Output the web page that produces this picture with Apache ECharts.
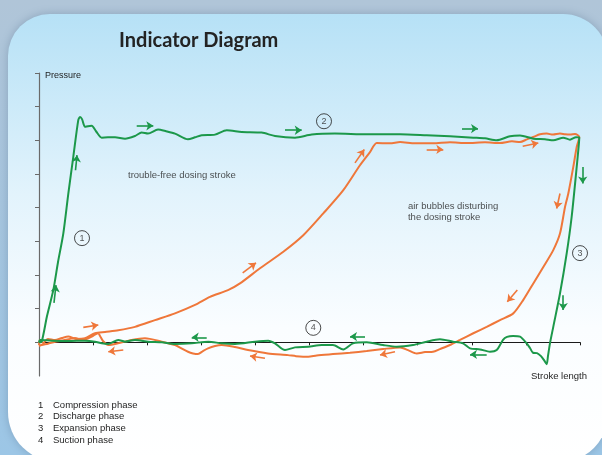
<!DOCTYPE html>
<html>
<head>
<meta charset="utf-8">
<title>Indicator Diagram</title>
<script src="https://cdn.jsdelivr.net/npm/echarts@6/dist/echarts.min.js"></script>
<style>
  html, body { margin: 0; padding: 0; }
  #chart { width: 602px; height: 455px; }
</style>
</head>
<body>
<div id="chart"></div>
<script>
// stroke position (0..10) / pressure (-1..8)
const cleanStroke = [
  [0, 0], [0.05, 0.02], [0.148, 0.78], [0.264, 1.55], [0.351, 2.38], [0.449, 3.23], [0.542, 4.42],
  [0.634, 5.51], [0.726, 6.6], [0.758, 6.69], [0.795, 6.63], [0.85, 6.4], [0.906, 6.42], [0.974, 6.43],
  [1.054, 6.27], [1.159, 6.08], [1.275, 6.09], [1.405, 6.09], [1.59, 6.05], [1.774, 6.13], [1.898, 6.23],
  [2.015, 6.2], [2.2, 6.32], [2.348, 6.27], [2.514, 6.2], [2.754, 6.03], [2.884, 6.09], [3.007, 6.15],
  [3.253, 6.17], [3.47, 6.3], [3.747, 6.25], [4.116, 6.23], [4.362, 6.13], [4.732, 6.08], [5.041, 6.17],
  [5.471, 6.2], [6.057, 6.18], [6.673, 6.18], [7.166, 6.15], [7.597, 6.12], [8.028, 6.08], [8.244, 6.06],
  [8.46, 6.0], [8.706, 6.12], [8.891, 6.14], [9.137, 6.05], [9.353, 6.03], [9.506, 6.0], [9.691, 6.08],
  [9.815, 6.02], [9.926, 6.09], [9.987, 6.08],
  [9.939, 5.21], [9.846, 3.73], [9.754, 2.64], [9.63, 1.45], [9.506, 0.46], [9.445, -0.03], [9.408, -0.41],
  [9.384, -0.65], [9.335, -0.53], [9.279, -0.41], [9.205, -0.32], [9.131, -0.31], [9.076, -0.17],
  [9.015, -0.03], [8.891, 0.17], [8.762, 0.19], [8.651, 0.16], [8.577, 0.07], [8.46, -0.23], [8.336, -0.28],
  [8.152, -0.21], [7.967, -0.18], [7.837, -0.03], [7.652, 0.02], [7.412, 0.09], [7.166, 0.02], [6.913, -0.08],
  [6.612, -0.13], [6.359, -0.08], [6.057, 0], [5.804, -0.03], [5.625, -0.21], [5.434, -0.08], [5.226, -0.08],
  [4.978, -0.13], [4.732, -0.15], [4.547, -0.23], [4.362, -0.03], [4.238, 0.05], [3.993, 0.02], [3.623, -0.05],
  [3.377, -0.03], [3.129, 0.02], [2.823, -0.03], [2.514, -0.05], [2.268, 0], [2.02, 0.02], [1.774, 0.07],
  [1.59, 0.02], [1.466, 0.07], [1.281, -0.05], [1.159, -0.03], [1.035, 0.02], [0.85, 0.05], [0.542, 0.04],
  [0.235, 0.05], [0.018, 0.07], [0, 0]
];

const airStroke = [
  [0, -0.08], [0.018, 0.07], [0.074, -0.02], [0.166, 0.1], [0.296, 0.07], [0.425, 0.13], [0.542, 0.17],
  [0.684, 0.1], [0.85, 0.12], [1.035, 0.27], [1.22, 0.31], [1.466, 0.36], [1.774, 0.46], [2.144, 0.66],
  [2.514, 0.86], [2.884, 1.11], [3.161, 1.35], [3.494, 1.55], [3.715, 1.75], [4.085, 2.2], [4.516, 2.69],
  [4.885, 3.18], [5.255, 3.83], [5.625, 4.52], [5.933, 5.26], [6.118, 5.65], [6.242, 5.92], [6.488, 5.91],
  [6.673, 5.95], [6.95, 5.91], [7.283, 5.91], [7.597, 5.94], [7.906, 5.92], [8.244, 5.94], [8.521, 5.92],
  [8.743, 5.97], [8.891, 5.95], [9.02, 6.03], [9.137, 6.1], [9.261, 6.18], [9.385, 6.2], [9.501, 6.17],
  [9.63, 6.2], [9.723, 6.18], [9.815, 6.17], [9.908, 6.19], [9.987, 6.1],
  [9.939, 5.8], [9.876, 5.21], [9.784, 4.42], [9.723, 4.02], [9.63, 3.23], [9.506, 2.74], [9.322, 2.24],
  [9.137, 1.75], [8.952, 1.26], [8.767, 0.86], [8.521, 0.66], [8.275, 0.46], [8.028, 0.27], [7.782, 0.07],
  [7.597, -0.08], [7.412, -0.2], [7.283, -0.28], [7.135, -0.29], [6.982, -0.33], [6.821, -0.23], [6.673, -0.15],
  [6.359, -0.2], [6.057, -0.26], [5.749, -0.31], [5.434, -0.35], [5.133, -0.39], [4.978, -0.43], [4.75, -0.41],
  [4.603, -0.38], [4.233, -0.33], [3.863, -0.23], [3.623, -0.14], [3.377, -0.08], [3.253, -0.11], [3.124, -0.18],
  [3.031, -0.26], [2.939, -0.35], [2.847, -0.33], [2.754, -0.28], [2.625, -0.17], [2.514, -0.08], [2.268, 0.02],
  [1.959, 0.12], [1.713, 0.07], [1.46, -0.03], [1.281, -0.08], [1.183, 0.04], [1.128, 0.19], [1.096, 0.27],
  [1.035, 0.23], [0.974, 0.17], [0.85, 0.08], [0.789, 0.07], [0.665, 0.13], [0.542, 0.09], [0.388, 0.04],
  [0.296, 0.02], [0.166, -0.04], [0.05, -0.08], [0, -0.11]
];

// direction arrows: [from, to]
const cleanArrows = [
  [[0.277, 1.17], [0.314, 1.7]],
  [[0.675, 5.11], [0.702, 5.56]],
  [[1.806, 6.43], [2.113, 6.43]],
  [[4.547, 6.3], [4.856, 6.3]],
  [[7.819, 6.35], [8.115, 6.35]],
  [[10.05, 5.21], [10.05, 4.72]],
  [[9.69, 1.4], [9.69, 0.96]],
  [[8.275, -0.36], [7.967, -0.36]],
  [[6.026, 0.17], [5.749, 0.17]],
  [[3.1, 0.15], [2.823, 0.15]]
];
const airArrows = [
  [[0.819, 0.445], [1.096, 0.513]],
  [[3.765, 2.065], [4.011, 2.362]],
  [[5.841, 5.33], [6.013, 5.73]],
  [[7.166, 5.73], [7.473, 5.73]],
  [[8.941, 5.825], [9.229, 5.923]],
  [[9.63, 4.42], [9.569, 3.976]],
  [[8.841, 1.552], [8.656, 1.205]],
  [[6.58, -0.279], [6.303, -0.377]],
  [[4.177, -0.475], [3.9, -0.407]],
  [[1.558, -0.228], [1.281, -0.279]]
];

const phaseMarks = [[0.795, 3.095, '1'], [5.268, 6.567, '2'], [10.0, 2.65, '3'], [5.07, 0.43, '4']];
const phaseNames = ['Compression phase', 'Discharge phase', 'Expansion phase', 'Suction phase'];
const notes = [[1.645, 4.96, 'trouble-free dosing stroke'], [6.82, 3.875, 'air bubbles disturbing\nthe dosing stroke']];
const yTicks = [0, 1, 2, 3, 4, 5, 6, 7, 8];

const GREEN = '#1c984a';
const ORANGE = '#ef773a';
const TEXT_FONT = '"Liberation Sans", Arial, sans-serif';
const INK = '#1e1e1e';

const myChart = echarts.init(document.getElementById('chart'));

const legendTexts = [];
phaseNames.forEach((name, i) => {
  legendTexts.push({
    type: 'text', left: 38, top: 400 + i * 11.8,
    style: { text: String(i + 1), font: '9.5px ' + TEXT_FONT, fill: INK }
  });
  legendTexts.push({
    type: 'text', left: 53, top: 400 + i * 11.8,
    style: { text: name, font: '9.5px ' + TEXT_FONT, fill: INK }
  });
});

const option = {
  animation: false,
  title: {
    text: 'Indicator Diagram',
    left: 119,
    top: 31,
    padding: 0,
    textStyle: { fontFamily: 'Lato', fontWeight: 'bold', fontSize: 20, color: '#232323' }
  },
  graphic: [
    {
      type: 'rect', z: -20, silent: true,
      shape: { x: 0, y: 0, width: 602, height: 455 },
      style: {
        fill: new echarts.graphic.LinearGradient(0, 0, 0, 1, [
          { offset: 0, color: '#b0c5d8' },
          { offset: 1, color: '#9cc6e6' }
        ])
      }
    },
    {
      type: 'rect', z: -19, silent: true,
      shape: { x: 8, y: 14, width: 600, height: 448, r: [42, 45, 48, 50] },
      style: {
        fill: new echarts.graphic.LinearGradient(0, 0, 0, 1, [
          { offset: 0, color: '#b6e1f6' },
          { offset: 0.4, color: '#e2f3fc' },
          { offset: 0.7, color: '#fafdff' },
          { offset: 1, color: '#ffffff' }
        ]),
        shadowBlur: 10,
        shadowColor: 'rgba(70,100,130,0.35)'
      }
    },
    ...legendTexts
  ],
  grid: { left: 39, right: 22, top: 73, bottom: 79 },
  xAxis: {
    type: 'value',
    min: 0, max: 10, interval: 1,
    name: 'Stroke length',
    nameLocation: 'end',
    nameGap: 7,
    nameTextStyle: {
      fontFamily: TEXT_FONT, fontSize: 9.5, color: INK,
      align: 'right', verticalAlign: 'top', padding: [29, 0, 0, 0]
    },
    axisLine: { onZero: true, lineStyle: { color: '#1a1a1a', width: 1.2 } },
    axisTick: { show: true, length: 3, lineStyle: { color: '#1a1a1a' } },
    axisLabel: { show: false },
    splitLine: { show: false }
  },
  yAxis: {
    type: 'value',
    min: -1, max: 8, interval: 1,
    name: 'Pressure',
    nameLocation: 'end',
    nameGap: -3,
    nameTextStyle: {
      fontFamily: TEXT_FONT, fontSize: 9, color: INK,
      align: 'left', verticalAlign: 'middle', padding: [0, 0, 0, 6]
    },
    axisLine: { show: true, onZero: false, lineStyle: { color: '#6a6a6a', width: 1.2 } },
    axisTick: { show: true, length: 4, customValues: yTicks, lineStyle: { color: '#6a6a6a' } },
    axisLabel: { show: false },
    splitLine: { show: false }
  },
  series: [
    {
      name: 'air bubbles',
      type: 'line',
      data: airStroke,
      showSymbol: false,
      smooth: 0.25,
      clip: false,
      lineStyle: { color: ORANGE, width: 2 },
      z: 3
    },
    {
      name: 'trouble-free',
      type: 'line',
      data: cleanStroke,
      showSymbol: false,
      smooth: 0.25,
      clip: false,
      lineStyle: { color: GREEN, width: 2 },
      z: 4
    },
    {
      type: 'lines',
      coordinateSystem: 'cartesian2d',
      clip: false,
      symbol: ['none', 'arrow'],
      symbolSize: 7,
      lineStyle: { color: GREEN, width: 1.6, opacity: 1 },
      data: cleanArrows.map(a => ({ coords: a })),
      z: 5
    },
    {
      type: 'lines',
      coordinateSystem: 'cartesian2d',
      clip: false,
      symbol: ['none', 'arrow'],
      symbolSize: 7,
      lineStyle: { color: ORANGE, width: 1.6, opacity: 1 },
      data: airArrows.map(a => ({ coords: a })),
      z: 5
    },
    {
      type: 'scatter',
      clip: false,
      symbol: 'circle',
      symbolSize: 15,
      itemStyle: { color: 'rgba(255,255,255,0)', borderColor: '#1e1e1e', borderWidth: 1 },
      label: {
        show: true, position: 'inside',
        formatter: p => p.data[2],
        fontFamily: TEXT_FONT, fontSize: 9, color: '#2a2a2a'
      },
      data: phaseMarks,
      z: 6
    },
    {
      type: 'scatter',
      clip: false,
      symbolSize: 0,
      itemStyle: { color: 'rgba(0,0,0,0)' },
      label: {
        show: true, position: 'right', distance: 0,
        align: 'left',
        formatter: p => p.data[2],
        fontFamily: TEXT_FONT, fontSize: 9.5, lineHeight: 11.5, color: INK
      },
      data: notes,
      z: 6
    }
  ]
};

option && myChart.setOption(option);
</script>
</body>
</html>
